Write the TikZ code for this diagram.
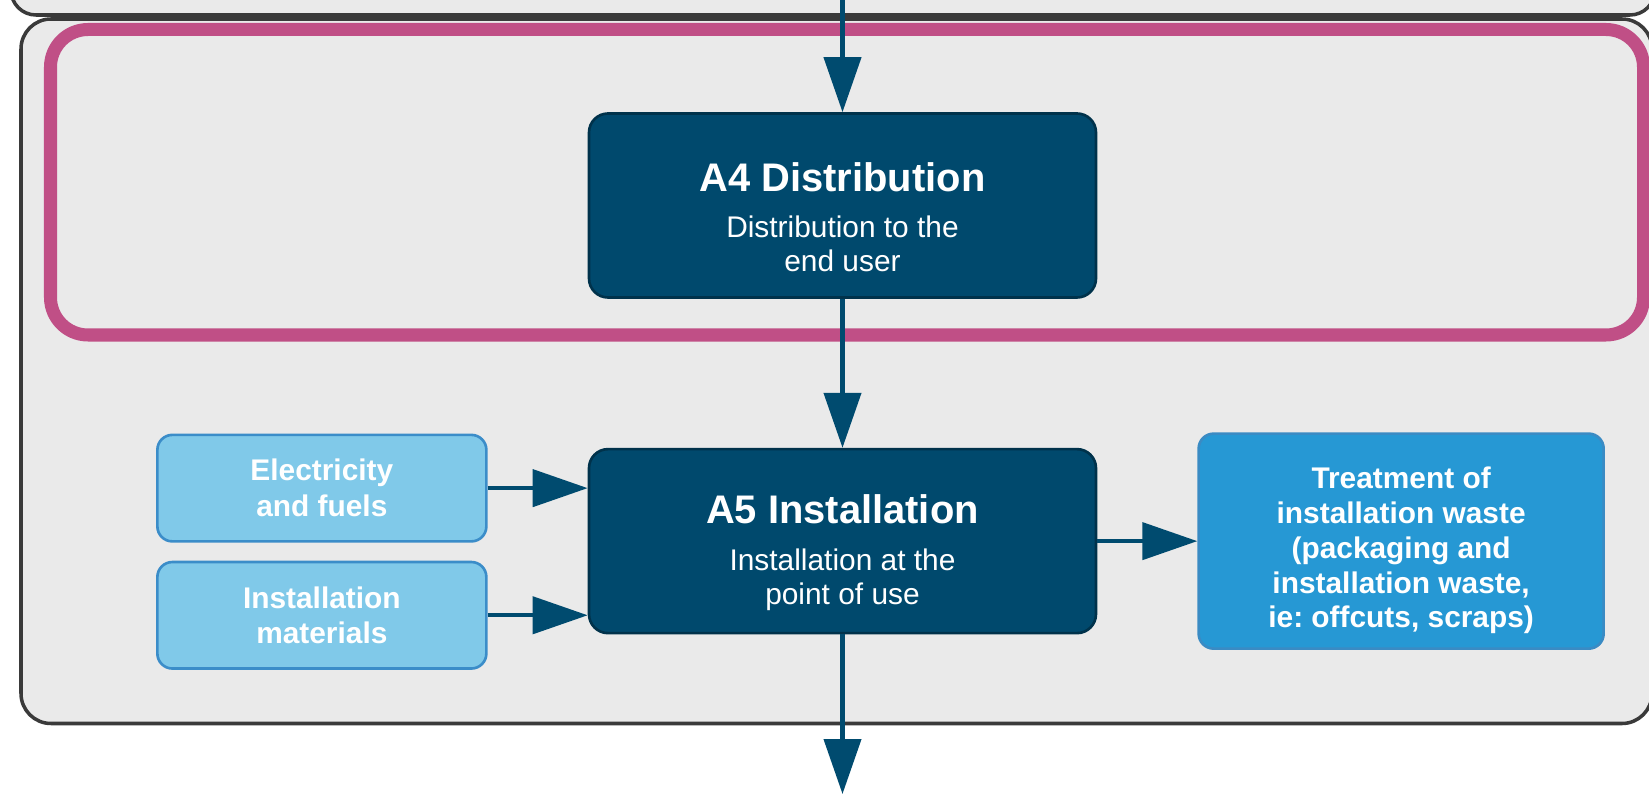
\documentclass[tikz,border=0pt]{standalone}
\usepackage{fontspec}
\setmainfont{Liberation Sans}
\usetikzlibrary{positioning}
\usetikzlibrary{calc}
\usetikzlibrary{arrows.meta}

\definecolor{stagefill}{HTML}{00496D}
\definecolor{stageline}{HTML}{00324B}
\definecolor{inputfill}{HTML}{80C9E9}
\definecolor{inputline}{HTML}{3B8DC9}
\definecolor{wastefill}{HTML}{2698D4}
\definecolor{wasteline}{HTML}{3A8BC4}
\definecolor{flowcol}{HTML}{004B6F}
\definecolor{panelfill}{HTML}{EAEAEA}
\definecolor{panelline}{HTML}{3A3A3A}
\definecolor{focus}{HTML}{C04F86}

% the strut pushes the text block a little below the middle of its box
\newcommand{\stagehead}[1]{{\fontsize{22.7}{27}\selectfont\bfseries\rule{0pt}{29.5pt}#1}}
\newcommand{\droptext}[1]{\rule{0pt}{#1}}
\frenchspacing

\begin{document}
\begin{tikzpicture}[
        node distance= 2.98cm and 2cm,
        stage/.style={draw=stageline, line width=1.5pt, fill=stagefill, text=white, rounded corners=0.38cm, align=center, minimum width=10.14cm, minimum height=3.68cm, font=\fontsize{17}{19.3}\selectfont},
        input/.style={draw=inputline, line width=1.5pt, fill=inputfill, text=white, rounded corners=0.3cm, align=center, minimum width=6.58cm, minimum height=2.13cm, font=\fontsize{17}{20.3}\selectfont\bfseries},
        waste/.style={input, draw=wasteline, fill=wastefill, minimum width=8.1cm, minimum height=4.3cm, font=\fontsize{17}{19.8}\selectfont\bfseries},
        flow/.style={line width=2.4pt, draw=flowcol, -{Triangle[length=1.1cm, width=0.74cm]}}
    ]
        \clip (0,0) rectangle (32.98,-15.88);

        \draw[panelline, line width=2pt, fill=panelfill, rounded corners=0.5cm] (0.22,1) rectangle (33.1,-0.30);
        \draw[panelline, line width=2pt, fill=panelfill, rounded corners=0.6cm] (0.42,-0.38) rectangle (33.04,-14.47);
        \draw[focus, line width=7.4pt, rounded corners=0.75cm] (1.01,-0.59) rectangle (32.87,-6.70);

        \node[stage] (a4) at (16.85,-4.11) {\stagehead{A4 Distribution}\\[7pt]Distribution to the\\end user};
        \node[stage, below = of a4] (a5) {\stagehead{A5 Installation}\\[7pt]Installation at the\\point of use};
        \node[input, left = of a5, yshift=1.06cm] (elec) {Electricity\\and fuels};
        \node[input, below = 0.36cm of elec] (mats) {Installation\\materials};
        \node[waste, right = of a5] (treat) {\droptext{23pt}Treatment of\\installation waste\\(packaging and\\installation waste,\\ie: offcuts, scraps)};

        \coordinate (feed) at (16.85,0.3);
        \coordinate (onward) at (16.85,-15.88);

        \draw[flow] (feed) -- (a4);
        \draw[flow] (a4) -- (a5);
        \draw[flow] (elec) -- (elec -| a5.west);
        \draw[flow] (mats) -- (mats -| a5.west);
        \draw[flow] (a5) -- (treat);
        \draw[flow] (a5) -- (onward);
    \end{tikzpicture}
\end{document}
